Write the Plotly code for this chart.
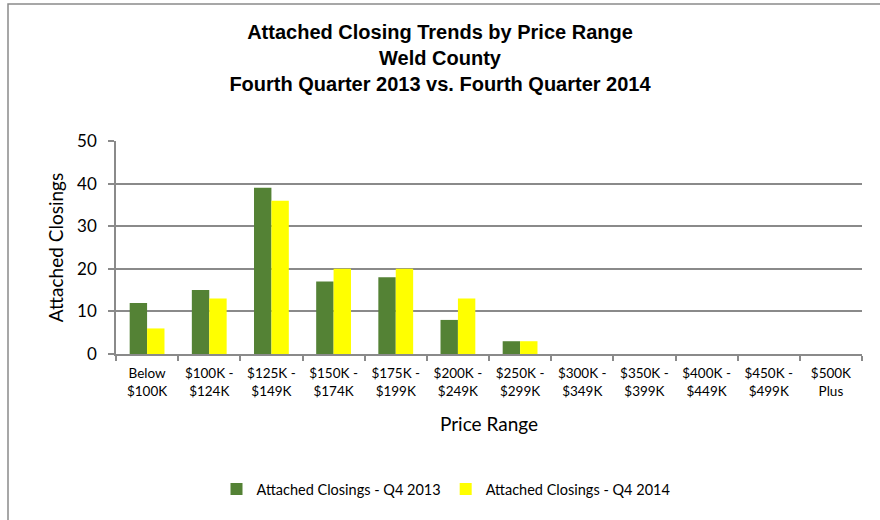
import plotly.graph_objects as go

categories = ["Below<br>$100K", "$100K -<br>$124K", "$125K -<br>$149K", "$150K -<br>$174K",
              "$175K -<br>$199K", "$200K -<br>$249K", "$250K -<br>$299K", "$300K -<br>$349K",
              "$350K -<br>$399K", "$400K -<br>$449K", "$450K -<br>$499K", "$500K<br>Plus"]
q4_2013 = [12, 15, 39, 17, 18, 8, 3, 0, 0, 0, 0, 0]
q4_2014 = [6, 13, 36, 20, 20, 13, 3, 0, 0, 0, 0, 0]
series_names = ["Attached Closings - Q4 2013", "Attached Closings - Q4 2014"]
title_lines = ["Attached Closing Trends by Price Range", "Weld County",
               "Fourth Quarter 2013 vs. Fourth Quarter 2014"]
y_ticks = [0, 10, 20, 30, 40, 50]

GREEN = "#548235"
YELLOW = "#FFFF00"
GRAY = "#8A8A8A"
BODY_FONT = "Lato, Open Sans, sans-serif"
TITLE_FONT = "Liberation Sans, Arial, sans-serif"

fig = go.Figure()
fig.add_trace(go.Bar(x=categories, y=q4_2013, name=series_names[0], marker_color=GREEN,
                     marker_line_width=0))
fig.add_trace(go.Bar(x=categories, y=q4_2014, name=series_names[1], marker_color=YELLOW,
                     marker_line_width=0))

L, R, T, B = 116, 18, 141, 166
W, H = 880, 520
pw = W - L - R
ph = H - T - B


def px_x(p):
    return (p - L) / pw


def px_y(p):
    return (H - B - p) / ph


fig.update_layout(
    width=W, height=H,
    margin=dict(l=L, r=R, t=T, b=B),
    paper_bgcolor="white", plot_bgcolor="white",
    barmode="group", bargap=0.44, bargroupgap=0,
    title=dict(text="<br>".join(title_lines), x=0.5, xref="container", xanchor="center",
               y=1 - 39 / H, yref="container", yanchor="top",
               font=dict(family=TITLE_FONT, size=20, color="black", weight="bold")),
    showlegend=True,
    legend=dict(orientation="h", x=px_x(446), xanchor="center",
                y=px_y(489), yanchor="middle",
                font=dict(family=BODY_FONT, size=14.5, color="black"),
                itemwidth=30, traceorder="normal"),
    font=dict(family=BODY_FONT, color="black"),
)

fig.update_xaxes(
    showline=True, linecolor=GRAY, linewidth=1.5,
    ticks="outside", tickson="boundaries", ticklen=5, tickcolor=GRAY, tickwidth=1.5,
    tickfont=dict(family=BODY_FONT, size=13.5, color="black"),
    ticklabelstandoff=6,
    title=dict(text="Price Range", font=dict(family=BODY_FONT, size=19, color="black"), standoff=20),
    showgrid=False,
)
fig.update_yaxes(
    range=[0, 50], tickvals=y_ticks,
    showline=True, linecolor=GRAY, linewidth=1.5,
    ticks="outside", ticklen=6, tickcolor=GRAY, tickwidth=1.5,
    showgrid=True, gridcolor=GRAY, gridwidth=1.5,
    zeroline=False,
    tickfont=dict(family=BODY_FONT, size=17, color="black"),
    ticklabelstandoff=8,
    title=dict(text="Attached Closings", font=dict(family=BODY_FONT, size=19, color="black"), standoff=8),
)

# outer chart border (extends past right/bottom edges as in the reference)
fig.add_shape(type="rect", xref="paper", yref="paper",
              x0=px_x(8), x1=px_x(W + 10), y0=px_y(H + 10), y1=px_y(4),
              line=dict(color=GRAY, width=1.5), fillcolor="rgba(0,0,0,0)", layer="below")

fig.write_html("out.html", config={"displayModeBar": False},
               post_script="document.body.style.margin='0';")
